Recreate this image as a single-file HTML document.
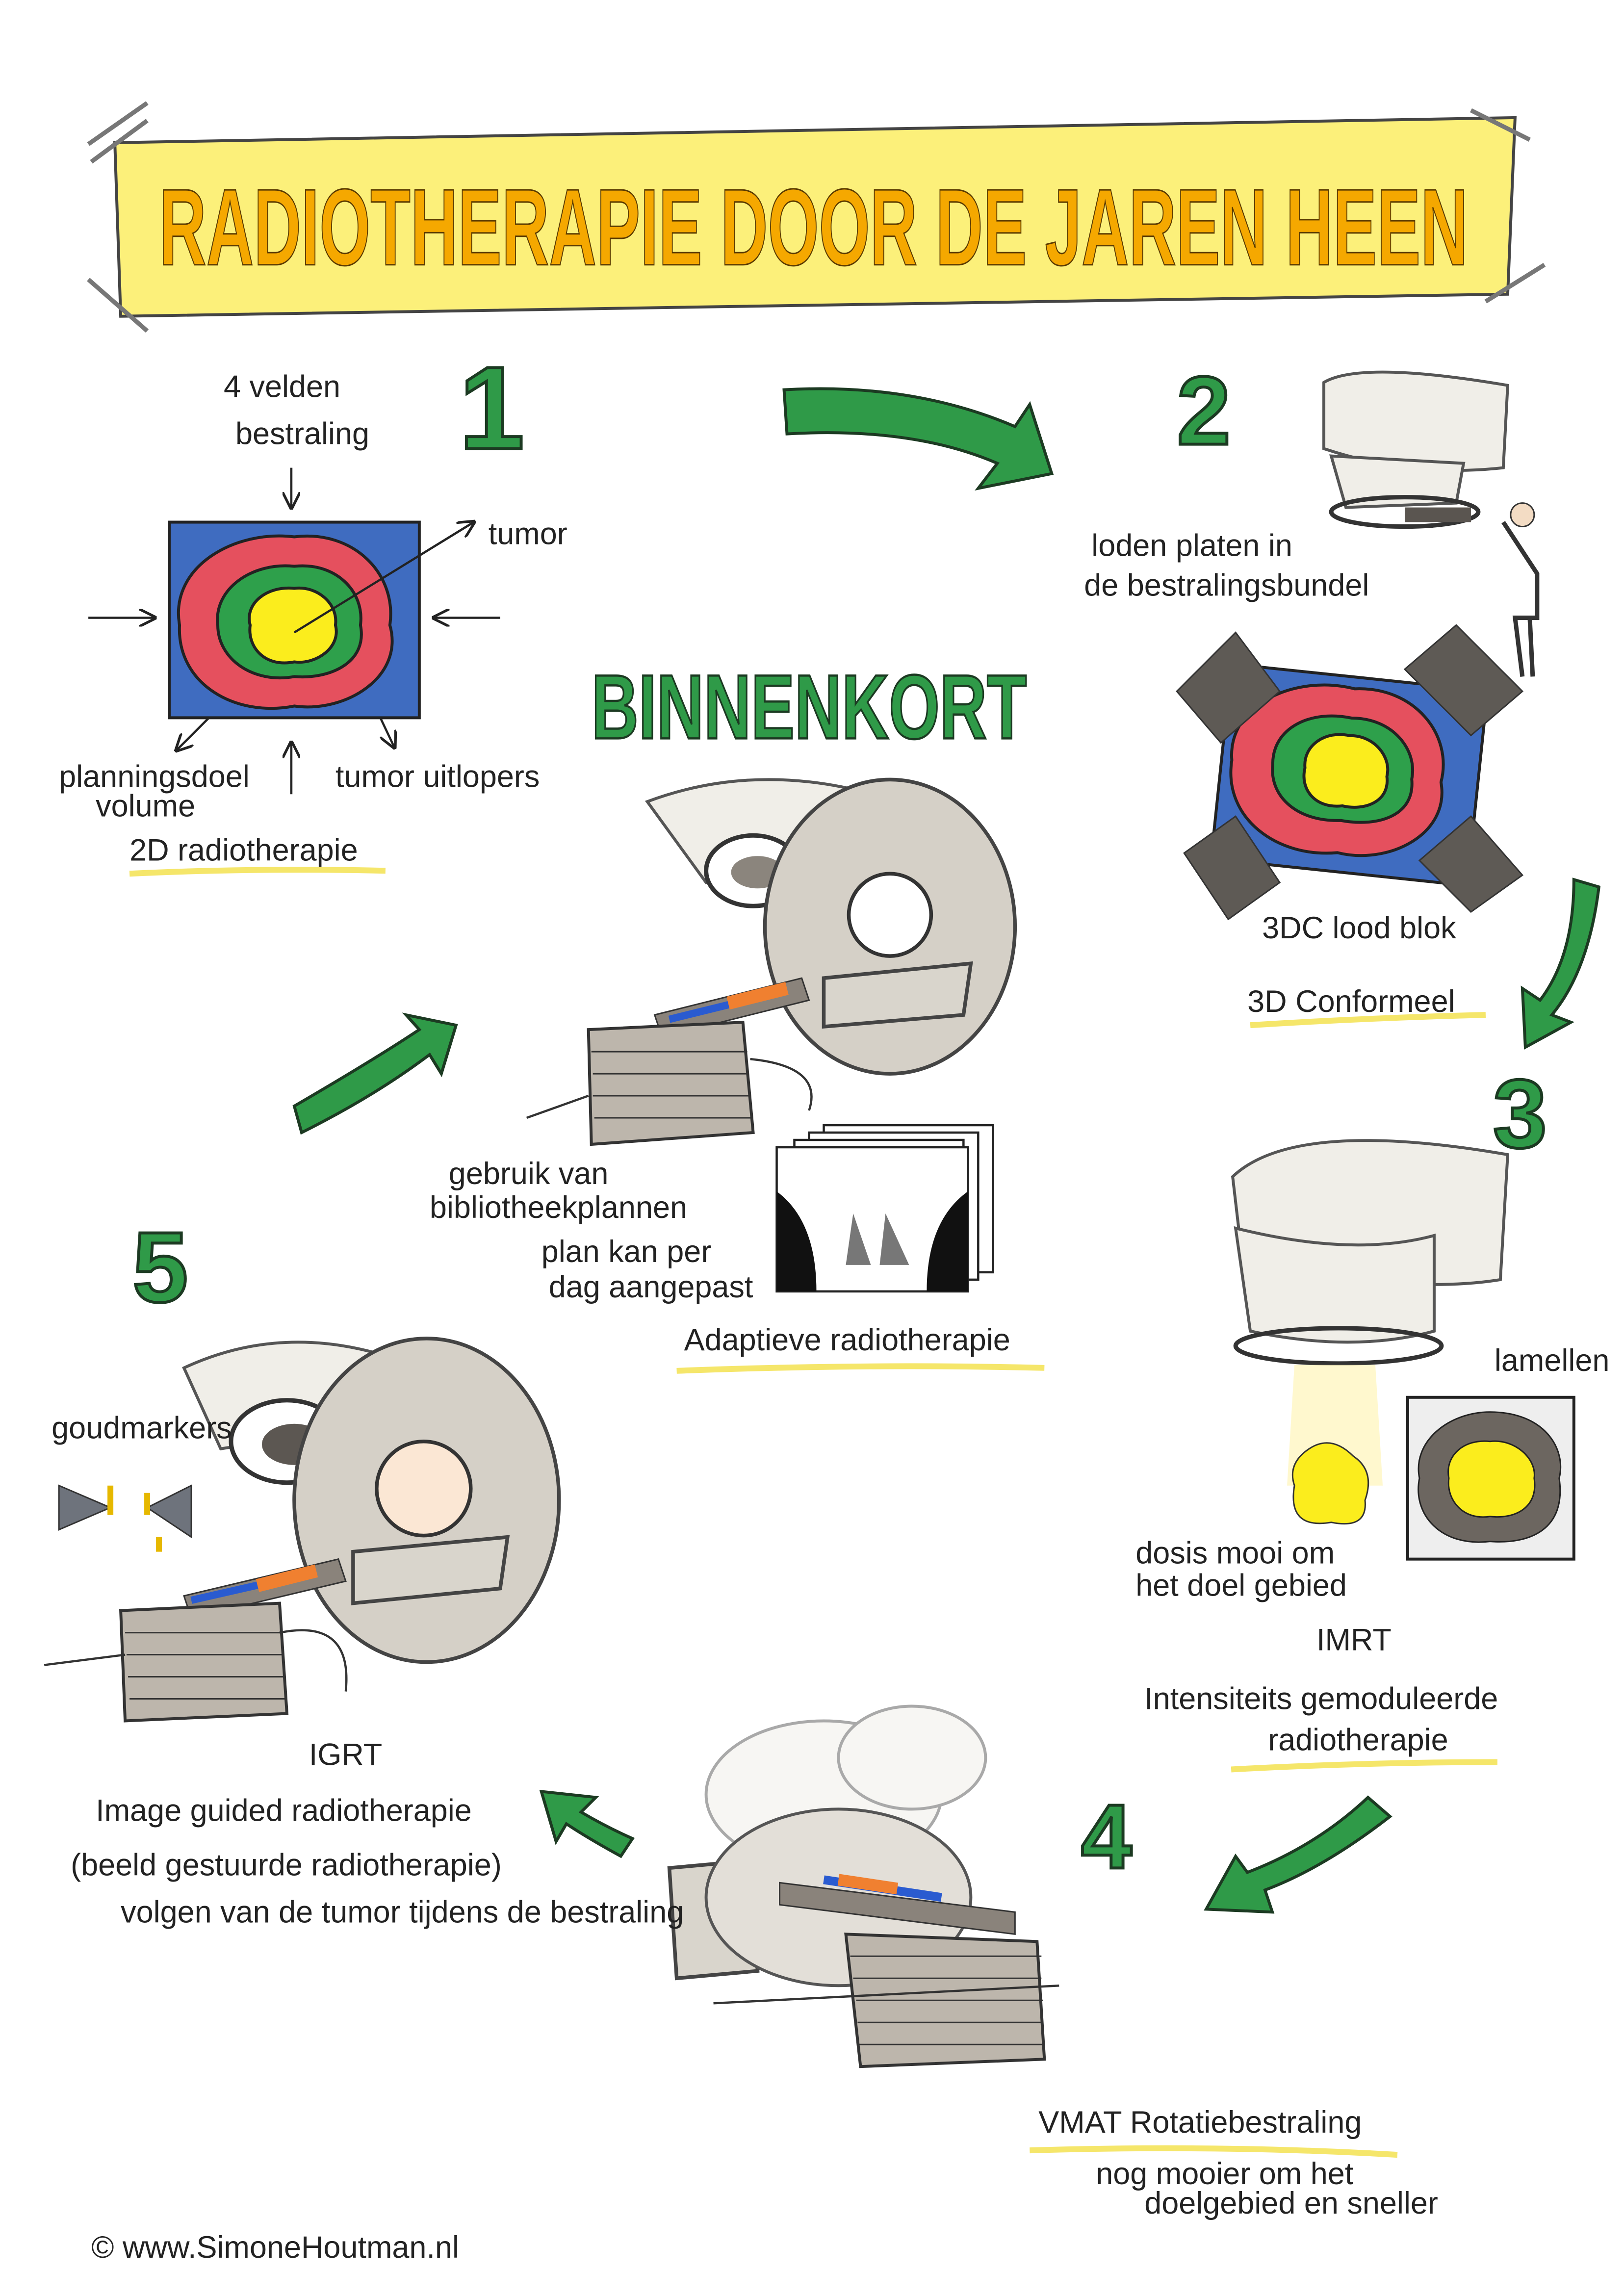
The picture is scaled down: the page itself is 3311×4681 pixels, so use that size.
<!DOCTYPE html>
<html><head><meta charset="utf-8"><style>
html,body{margin:0;padding:0;background:#fff}
svg{display:block}
text{font-family:"Liberation Sans",sans-serif;fill:#222}
.h{font-family:"Liberation Sans",sans-serif;font-size:21px;fill:#222}
.g{fill:#2f9a48;stroke:#1c3a22;stroke-width:2}
.m{fill:#d9d5cc;stroke:#444;stroke-width:2.5}
.ml{fill:#f0eee8;stroke:#555;stroke-width:2}
</style></head><body>
<svg width="3311" height="4681" viewBox="0 0 1104 1561" xmlns="http://www.w3.org/2000/svg">
<defs><marker id="a" markerWidth="8" markerHeight="8" refX="7" refY="4" orient="auto"><path d="M0 0 L8 4 L0 8" fill="none" stroke="#222" stroke-width="1.2"/></marker></defs>
<rect width="1104" height="1561" fill="#fff"/>
<!-- banner -->
<path d="M78 97 L1030 80 L1025 200 L82 215 Z" fill="#fcf07a" stroke="#444" stroke-width="2"/>
<path d="M60 98 L100 70 M62 110 L100 82 M1000 75 L1040 95 M60 190 L100 225 M1010 205 L1050 180" stroke="#777" stroke-width="3"/>
<text x="108" y="180" font-size="74" font-weight="bold" style="fill:#f5a800;stroke:#5a3a00;stroke-width:1" textLength="890" lengthAdjust="spacingAndGlyphs">RADIOTHERAPIE DOOR DE JAREN HEEN</text>
<!-- section 1 -->
<text x="312" y="305" font-size="80" font-weight="bold" class="g">1</text>
<text x="152" y="270" class="h" font-size="24">4 velden</text>
<text x="160" y="302" class="h" font-size="24">bestraling</text>
<g stroke="#222" stroke-width="1.5" fill="none" marker-end="url(#a)">
<path d="M198 318 V345"/><path d="M60 420 H105"/><path d="M340 420 H295"/><path d="M198 540 V505"/><path d="M145 485 L120 510"/><path d="M250 470 L268 508"/><path d="M200 430 L322 355"/></g>
<rect x="115" y="355" width="170" height="133" fill="#3f6cc0" stroke="#222" stroke-width="2"/>
<path d="M200 365 C240 360 270 390 265 425 C275 460 235 485 200 480 C160 488 120 465 122 425 C115 385 160 360 200 365Z" fill="#e5505e" stroke="#222" stroke-width="2"/>
<path d="M200 385 C228 382 248 402 245 425 C250 450 225 462 200 460 C172 465 148 448 148 425 C145 400 172 382 200 385Z" fill="#2ea04b" stroke="#222" stroke-width="2"/>
<path d="M200 400 C215 398 230 410 228 425 C232 440 215 452 200 450 C180 454 168 440 170 425 C166 410 182 398 200 400Z" fill="#fbed1d" stroke="#222" stroke-width="2"/>
<path d="M200 430 L322 355" stroke="#222" stroke-width="1.5"/>
<text x="332" y="370" class="h">tumor</text>
<text x="40" y="535" class="h">planningsdoel</text>
<text x="65" y="555" class="h" font-size="19">volume</text>
<text x="228" y="535" class="h">tumor uitlopers</text>
<text x="88" y="585" class="h" font-size="23">2D radiotherapie</text>
<path d="M88 594 Q170 590 262 592" stroke="#f5e66a" stroke-width="4" fill="none"/>
<!-- arrow 1->2 -->
<path d="M533 265 Q620 260 690 290 L700 275 L715 322 L665 332 L678 315 Q620 290 535 295Z" class="g"/>
<!-- section 2 -->
<text x="800" y="302" font-size="66" font-weight="bold" class="g">2</text>
<path d="M900 260 Q925 245 1025 262 L1022 318 Q960 325 900 305Z" class="ml"/>
<path d="M905 310 L995 315 L990 342 L915 345Z" class="ml"/>
<ellipse cx="955" cy="348" rx="50" ry="10" fill="none" stroke="#333" stroke-width="3"/>
<rect x="955" y="345" width="45" height="10" fill="#5a5550"/>
<path d="M1022 355 L1045 390 L1045 420 L1030 420 L1035 460 M1040 420 L1042 460" stroke="#333" stroke-width="3" fill="none"/>
<circle cx="1035" cy="350" r="8" fill="#f3dcc4" stroke="#333"/>
<text x="742" y="378" class="h">loden  platen  in</text>
<text x="737" y="405" class="h">de  bestralingsbundel</text>
<g transform="rotate(6 915 525)">
<rect x="830" y="460" width="175" height="133" fill="#3f6cc0" stroke="#222" stroke-width="2"/>
<path d="M915 468 C955 462 985 492 980 525 C990 560 950 585 915 580 C875 588 835 565 837 525 C830 487 875 462 915 468Z" fill="#e5505e" stroke="#222" stroke-width="2"/>
<path d="M915 488 C943 485 962 505 960 525 C965 550 940 560 915 558 C887 562 865 548 865 525 C862 500 887 485 915 488Z" fill="#2ea04b" stroke="#222" stroke-width="2"/>
<path d="M915 500 C932 498 945 512 943 525 C947 542 930 550 915 548 C897 552 885 540 887 525 C884 510 898 498 915 500Z" fill="#fbed1d" stroke="#222" stroke-width="2"/>
</g>
<path d="M800 470 L840 430 L870 470 L830 505Z M955 455 L990 425 L1035 470 L1000 500Z M805 580 L840 555 L870 600 L835 625Z M965 585 L1000 555 L1035 595 L1000 620Z" fill="#5e5a55" stroke="#333"/>
<text x="858" y="638" class="h">3DC  lood blok</text>
<text x="848" y="688" class="h" font-size="24">3D Conformeel</text>
<path d="M850 697 Q930 692 1010 690" stroke="#f5e66a" stroke-width="4" fill="none"/>
<path d="M1070 598 L1087 603 Q1080 660 1055 690 L1068 695 L1037 712 L1035 672 L1047 680 Q1070 650 1070 598Z" class="g"/>
<text x="1015" y="780" font-size="66" font-weight="bold" class="g">3</text>
<!-- IMRT -->
<path d="M838 800 Q880 760 1025 785 L1020 870 Q960 880 845 860Z" class="ml"/>
<path d="M840 835 Q920 855 975 840 L975 905 Q920 920 850 905Z" class="ml"/>
<ellipse cx="910" cy="915" rx="70" ry="12" fill="none" stroke="#333" stroke-width="3"/>
<path d="M880 928 L935 928 L940 1010 L875 1010Z" fill="#fff6c2" opacity="0.8"/>
<path d="M890 985 Q905 975 920 990 Q935 1000 928 1020 Q930 1040 905 1035 Q875 1040 880 1010 Q875 995 890 985Z" fill="#fbed1d" stroke="#333"/>
<rect x="957" y="950" width="113" height="110" fill="#eee" stroke="#222" stroke-width="2"/>
<path d="M1013 960 C1050 960 1065 985 1060 1005 C1065 1040 1040 1050 1013 1048 C980 1052 960 1030 965 1005 C960 980 985 960 1013 960Z" fill="#6c6660" stroke="#222"/>
<path d="M1013 980 C1030 978 1045 992 1043 1005 C1046 1025 1030 1033 1013 1031 C995 1034 983 1020 985 1005 C982 990 995 978 1013 980Z" fill="#fbed1d" stroke="#222"/>
<text x="1016" y="932" class="h" font-size="19">lamellen</text>
<text x="772" y="1063" class="h" font-size="18">dosis  mooi  om</text>
<text x="772" y="1085" class="h" font-size="18">het doel gebied</text>
<text x="895" y="1122" class="h" font-size="30">IMRT</text>
<text x="778" y="1162" class="h" font-size="22">Intensiteits gemoduleerde</text>
<text x="862" y="1190" class="h" font-size="22">radiotherapie</text>
<path d="M837 1203 Q930 1198 1018 1198" stroke="#f5e66a" stroke-width="4" fill="none"/>
<path d="M930 1222 L945 1235 Q900 1270 860 1285 L865 1300 L820 1298 L840 1262 L848 1273 Q895 1255 930 1222Z" class="g"/>
<!-- 4 VMAT -->
<text x="735" y="1270" font-size="62" font-weight="bold" class="g">4</text>
<g opacity="0.5"><ellipse cx="560" cy="1220" rx="80" ry="50" class="ml"/><ellipse cx="620" cy="1195" rx="50" ry="35" class="ml"/></g>
<path d="M455 1270 L510 1265 L515 1340 L460 1345Z" class="m"/>
<ellipse cx="570" cy="1290" rx="90" ry="60" fill="#e3dfd8" stroke="#555" stroke-width="2"/>
<path d="M530 1280 L690 1300 L690 1315 L530 1295Z" fill="#8a837b" stroke="#333"/>
<path d="M560 1278 L640 1290" stroke="#2a5bd0" stroke-width="6"/>
<path d="M570 1278 L610 1284" stroke="#f08030" stroke-width="8"/>
<path d="M575 1315 L705 1320 L710 1400 L585 1405Z" fill="#bdb6ac" stroke="#333" stroke-width="2"/>
<g stroke="#333" stroke-width="1"><path d="M578 1330 H708 M580 1345 H708 M582 1360 H709 M583 1375 H709 M584 1390 H710"/></g>
<path d="M485 1362 L720 1350" stroke="#333" stroke-width="1.5"/>
<text x="706" y="1450" class="h" font-size="23">VMAT Rotatiebestraling</text>
<path d="M700 1462 Q830 1458 950 1465" stroke="#f5e66a" stroke-width="4" fill="none"/>
<text x="745" y="1485" class="h" font-size="19">nog  mooier  om het</text>
<text x="778" y="1505" class="h" font-size="19">doelgebied  en sneller</text>
<path d="M430 1250 L422 1262 Q400 1250 385 1240 L378 1252 L368 1218 L405 1222 L395 1232 Q412 1242 430 1250Z" class="g"/>
<!-- IGRT -->
<text x="210" y="1200" class="h" font-size="34">IGRT</text>
<text x="65" y="1238" class="h" font-size="25">Image guided radiotherapie</text>
<text x="48" y="1275" class="h">(beeld gestuurde radiotherapie)</text>
<text x="82" y="1307" class="h" font-size="18">volgen van de tumor tijdens de bestraling</text>
<!-- 5 machine -->
<text x="90" y="885" font-size="68" font-weight="bold" class="g">5</text>
<path d="M125 930 Q200 895 285 930 L265 995 Q210 975 150 985 Z" class="ml"/>
<ellipse cx="195" cy="980" rx="38" ry="28" fill="#fff" stroke="#333" stroke-width="3"/>
<ellipse cx="200" cy="982" rx="22" ry="14" fill="#5c5752"/>
<ellipse cx="290" cy="1020" rx="90" ry="110" fill="#d5d0c7" stroke="#444" stroke-width="2.5"/>
<circle cx="288" cy="1012" r="32" fill="#fbe7d4" stroke="#333" stroke-width="2.5"/>
<path d="M240 1055 L345 1045 L340 1080 L240 1090Z" class="m"/>
<path d="M125 1085 L230 1060 L235 1075 L130 1100Z" fill="#8a837b" stroke="#333"/>
<path d="M130 1088 L200 1072" stroke="#2a5bd0" stroke-width="5"/><path d="M175 1078 L215 1068" stroke="#f08030" stroke-width="9"/>
<path d="M82 1095 L190 1090 L195 1165 L85 1170Z" fill="#bdb6ac" stroke="#333" stroke-width="2"/>
<g stroke="#333"><path d="M85 1110 H192 M86 1125 H193 M87 1140 H194 M88 1155 H195"/></g>
<path d="M30 1132 L85 1125 M190 1110 Q240 1100 235 1150" stroke="#333" stroke-width="1.5" fill="none"/>
<text x="35" y="978" class="h" font-size="16">goudmarkers</text>
<path d="M40 1010 L75 1025 L40 1040Z M130 1010 L100 1025 L130 1045Z" fill="#6e737c" stroke="#333"/>
<path d="M75 1010 V1030 M100 1015 V1030 M108 1045 V1055" stroke="#e6b800" stroke-width="4"/>
<!-- arrow 5->adaptive -->
<path d="M205 770 L200 752 Q255 720 285 700 L276 690 L310 697 L300 730 L292 717 Q255 745 205 770Z" class="g"/>
<!-- BINNENKORT -->
<text x="402" y="502" font-size="62" font-weight="bold" style="fill:#2f9a48;stroke:#1c3a22;stroke-width:1.5" textLength="296" lengthAdjust="spacingAndGlyphs">BINNENKORT</text>
<path d="M440 545 Q520 515 610 545 L590 605 Q540 590 480 600 Z" class="ml"/>
<ellipse cx="512" cy="592" rx="32" ry="24" fill="#fff" stroke="#333" stroke-width="3"/>
<ellipse cx="515" cy="593" rx="18" ry="11" fill="#8b857d"/>
<ellipse cx="605" cy="630" rx="85" ry="100" fill="#d5d0c7" stroke="#444" stroke-width="2.5"/>
<circle cx="605" cy="622" r="28" fill="#fff" stroke="#333" stroke-width="2.5"/>
<path d="M560 665 L660 655 L655 690 L560 698Z" class="m"/>
<path d="M445 690 L545 665 L550 680 L450 705Z" fill="#8a837b" stroke="#333"/>
<path d="M455 693 L520 677" stroke="#2a5bd0" stroke-width="5"/><path d="M495 682 L535 672" stroke="#f08030" stroke-width="9"/>
<path d="M400 700 L505 695 L512 770 L402 778Z" fill="#bdb6ac" stroke="#333" stroke-width="2"/>
<g stroke="#333"><path d="M402 715 H508 M403 730 H509 M403 745 H510 M404 760 H511"/></g>
<path d="M358 760 L400 745 M510 720 Q560 725 550 755" stroke="#333" stroke-width="1.5" fill="none"/>
<text x="305" y="805" class="h" font-size="19">gebruik  van</text>
<text x="292" y="828" class="h" font-size="19">bibliotheekplannen</text>
<text x="368" y="858" class="h" font-size="19">plan kan per</text>
<text x="373" y="882" class="h" font-size="19">dag aangepast</text>
<g stroke="#222" stroke-width="1.5" fill="#fff">
<rect x="560" y="765" width="115" height="100"/><rect x="550" y="770" width="115" height="100"/><rect x="540" y="775" width="115" height="100"/>
<rect x="528" y="780" width="130" height="98"/></g>
<path d="M528 810 Q555 830 555 878 L528 878Z M658 810 Q630 830 630 878 L658 878Z" fill="#111"/>
<path d="M575 860 L580 825 L592 860Z M598 860 L602 825 L618 860Z" fill="#777"/>
<text x="465" y="918" class="h" font-size="24">Adaptieve radiotherapie</text>
<path d="M460 932 Q590 927 710 930" stroke="#f5e66a" stroke-width="4" fill="none"/>
<text x="62" y="1535" class="h" font-size="14">© www.SimoneHoutman.nl</text>
</svg>
</body></html>
